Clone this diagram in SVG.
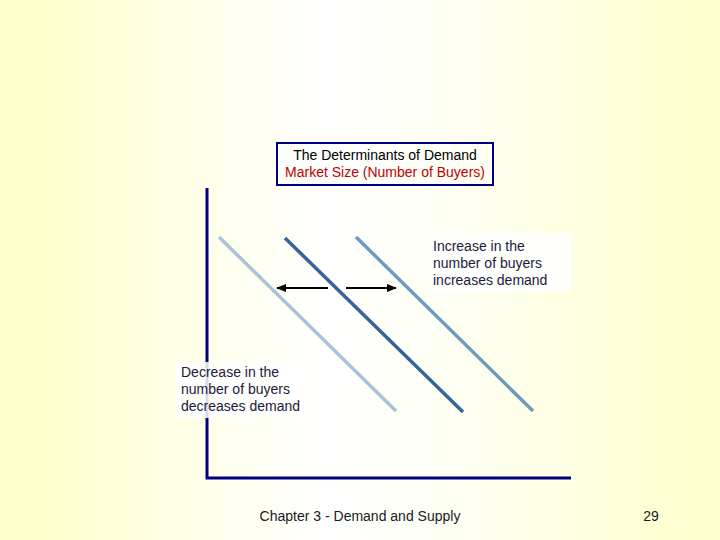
<svg xmlns="http://www.w3.org/2000/svg" width="720" height="540" viewBox="0 0 720 540">
<defs>
<linearGradient id="bg" x1="0" y1="0" x2="1" y2="0">
<stop offset="0" stop-color="#FFFFCC"/>
<stop offset="0.05" stop-color="#FFFFCC"/>
<stop offset="0.45" stop-color="#FFFFFF"/>
<stop offset="0.6" stop-color="#FEFFF5"/>
<stop offset="1" stop-color="#FFFFCC"/>
</linearGradient>
<marker id="ah" viewBox="0 0 10 10" refX="9" refY="5" markerWidth="5" markerHeight="5" orient="auto" markerUnits="strokeWidth">
<path d="M0,1 L10,5 L0,9 z" fill="#000"/>
</marker>
<style>
text{font-family:"Liberation Sans",Arial,sans-serif;}
.lbl{font-size:14px;fill:#1a1a3a;}
.axis{stroke:#000080;stroke-width:3;fill:none;}
.curve{stroke-width:3.5;stroke-linecap:butt;fill:none;}
.arr{stroke:#000;stroke-width:2;fill:none;marker-end:url(#ah);}
.foot{font-size:14px;fill:#1a1a1a;}
</style>
</defs>
<rect width="720" height="540" fill="url(#bg)"/>

<g id="axes">
<path class="axis" d="M207,188 V478 H571"/>
</g>

<g id="title">
<rect x="277" y="143" width="216" height="42" fill="#FFFFFF" fill-opacity="0.3" stroke="#000080" stroke-width="2"/>
<text x="385" y="160" text-anchor="middle" font-size="14" fill="#000">The Determinants of Demand</text>
<text x="385" y="177" text-anchor="middle" font-size="14" fill="#C00000">Market Size (Number of Buyers)</text>
</g>

<g id="curves">
<line id="d-decrease" class="curve" x1="219" y1="237" x2="396" y2="411" stroke="#A9C2D8"/>
<line id="d-original" class="curve" x1="285" y1="238" x2="463" y2="412" stroke="#33659A"/>
<line id="d-increase" class="curve" x1="356" y1="237" x2="533" y2="411" stroke="#7099BD"/>
</g>

<g id="connectors">
<line class="arr" x1="328" y1="288" x2="277" y2="288"/>
<line class="arr" x1="346" y1="288" x2="396" y2="288"/>
</g>

<g id="increase-label">
<rect x="428" y="233" width="143" height="59" fill="#FFFFFF" fill-opacity="0.85"/>
<text class="lbl" x="433" y="251">Increase in the</text>
<text class="lbl" x="433" y="268">number of buyers</text>
<text class="lbl" x="433" y="285">increases demand</text>
</g>

<g id="decrease-label">
<rect x="176" y="362" width="128" height="56" fill="#FFFFFF" fill-opacity="0.85"/>
<text class="lbl" x="181" y="377">Decrease in the</text>
<text class="lbl" x="181" y="394">number of buyers</text>
<text class="lbl" x="181" y="411">decreases demand</text>
</g>

<g id="footer">
<text class="foot" x="360" y="521" text-anchor="middle">Chapter 3 - Demand and Supply</text>
<text class="foot" x="651" y="521" text-anchor="middle">29</text>
</g>
</svg>
